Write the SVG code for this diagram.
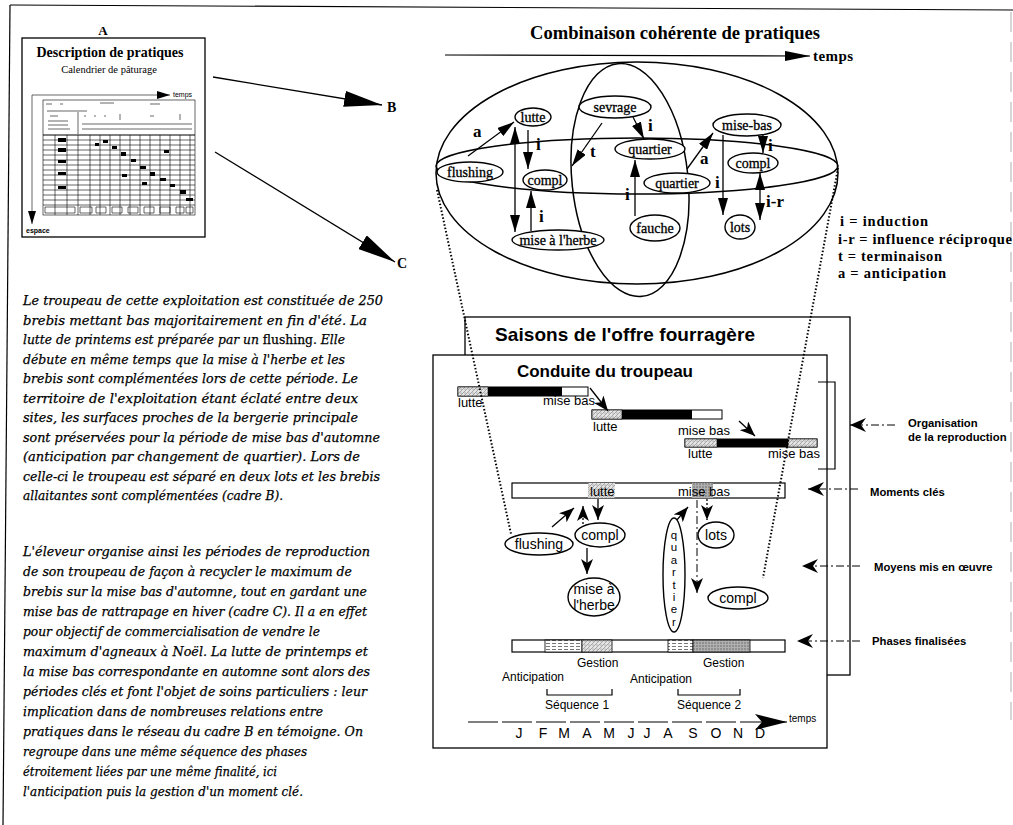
<svg xmlns="http://www.w3.org/2000/svg" width="1013" height="825" viewBox="0 0 1013 825">
<defs>
<style>
.ln{stroke:#000;fill:none;stroke-width:1.2}
.box{fill:#fff;stroke:#000;stroke-width:1.3}
.nd{fill:#fff;stroke:#000;stroke-width:1.4}
.ell{fill:none;stroke:#000;stroke-width:1.5}
.nt{font-family:"Liberation Serif",serif;font-size:14px;text-anchor:middle;stroke:#000;stroke-width:0.3}
.rl{font-family:"Liberation Serif",serif;font-weight:bold;font-size:17px}
.lg{font-family:"Liberation Serif",serif;font-weight:bold;font-size:14.5px}
.para{font-family:"DejaVu Serif",serif;font-style:italic;font-size:12px;stroke:#000;stroke-width:0.25}
.up{font-style:normal}
.ct{font-family:"Liberation Sans",sans-serif;font-size:13px}
.nm{font-family:"Liberation Sans",sans-serif;font-size:14px;text-anchor:middle}
.lb{font-family:"Liberation Sans",sans-serif;font-weight:bold;font-size:11.3px}
.sm{font-family:"Liberation Sans",sans-serif;font-size:12px}
.dot{stroke:#000;stroke-width:2;stroke-dasharray:1.5 2;fill:none}
.dd{stroke:#000;stroke-width:1;stroke-dasharray:8 3 2 3;fill:none}
.ar{stroke:#000;stroke-width:1.3;fill:none}
.th{stroke:#000;stroke-width:0.6;fill:none}
</style>
<marker id="mBig" markerUnits="userSpaceOnUse" markerWidth="38" markerHeight="16" refX="38" refY="8" orient="auto"><path d="M0,0 L38,8 L0,16 z" fill="#000"/></marker>
<marker id="mTop" markerUnits="userSpaceOnUse" markerWidth="17" markerHeight="10" refX="17" refY="5" orient="auto-start-reverse"><path d="M0,0 L17,5 L0,10 z" fill="#000"/></marker>
<marker id="mSm" markerUnits="userSpaceOnUse" markerWidth="15" markerHeight="12" refX="15" refY="6" orient="auto"><path d="M0,0 L15,6 L0,12 L4,6 z" fill="#000"/></marker>
<marker id="mLbl" markerUnits="userSpaceOnUse" markerWidth="16" markerHeight="14" refX="16" refY="7" orient="auto"><path d="M0,0 L16,7 L0,14 L5,7 z" fill="#000"/></marker>
<marker id="mAxis" markerUnits="userSpaceOnUse" markerWidth="32" markerHeight="16" refX="32" refY="8" orient="auto"><path d="M0,0 L32,8 L0,16 L7,8 z" fill="#000"/></marker>
<marker id="mTitle" markerUnits="userSpaceOnUse" markerWidth="25" markerHeight="10" refX="25" refY="5" orient="auto"><path d="M0,0 L25,5 L0,10 z" fill="#000"/></marker>
<marker id="mThumb" markerUnits="userSpaceOnUse" markerWidth="13" markerHeight="8" refX="13" refY="4" orient="auto"><path d="M0,0 L13,4 L0,8 z" fill="#000"/></marker>
<pattern id="hL" width="4" height="4" patternUnits="userSpaceOnUse"><rect width="4" height="4" fill="#e4e4e4"/><path d="M0,4 L4,0" stroke="#8a8a8a" stroke-width="0.7"/><circle cx="1" cy="1" r="0.5" fill="#666"/></pattern>
<pattern id="hD" width="3" height="3" patternUnits="userSpaceOnUse"><rect width="3" height="3" fill="#b0b0b0"/><circle cx="1" cy="1" r="0.7" fill="#555"/></pattern>
<pattern id="hW" width="6" height="3" patternUnits="userSpaceOnUse"><rect width="6" height="3" fill="#fff"/><path d="M0,1.5 L4,1.5" stroke="#555" stroke-width="0.8"/></pattern>
</defs>

<g id="frame">
<line x1="10" y1="5" x2="1013" y2="10" class="ln" stroke-width="1"/>
<line x1="10" y1="5" x2="3" y2="825" class="ln" stroke-width="1"/>
<line x1="1011" y1="12" x2="1011" y2="720" stroke="#999" stroke-width="0.8" stroke-dasharray="20 10"/>
</g>

<g id="panelA">
<text x="103" y="35" text-anchor="middle" font-family="Liberation Serif, serif" font-weight="bold" font-size="13">A</text>
<rect x="22" y="38" width="183" height="199" class="box"/>
<text x="110" y="57" text-anchor="middle" font-family="Liberation Serif, serif" font-weight="bold" font-size="14">Description de pratiques</text>
<text x="109" y="73" text-anchor="middle" font-family="Liberation Serif, serif" font-size="10.5">Calendrier de pâturage</text>
<line x1="32" y1="95" x2="170" y2="95" class="th" stroke-width="1" marker-end="url(#mThumb)"/>
<text x="173" y="97" font-family="Liberation Sans, sans-serif" font-size="7">temps</text>
<line x1="32" y1="95" x2="32" y2="224" class="th" stroke-width="1.2" marker-end="url(#mThumb)"/>
<text x="26" y="233" font-family="Liberation Sans, sans-serif" font-weight="bold" font-size="7">espace</text>
<rect x="43" y="100" width="152" height="115" class="th" fill="#fff"/>
<path class="th" d="M46,104 h6 M60,104 h3 M100,103 h14 M150,104 h10 M47,111 h40 M50,116 h8 M48,121 h20 M48,125 h20 M48,129 h22 M78,112 v22 M84,116 h2 M94,116 h2 M104,116 h2 M120,114 v6 M150,116 h4 M180,114 v6 M82,124 h110 M82,129 h110"/>
<line x1="43" y1="135" x2="195" y2="135" stroke="#000" stroke-width="1.2"/>
<path class="th" d="M43,140 H195 M43,145 H195 M43,150 H195 M43,155 H195 M43,160 H195 M43,165 H195 M43,170 H195 M43,175 H195 M43,180 H195 M43,185 H195 M43,190 H195 M43,195 H195 M43,200 H195 M43,205 H195"/>
<path class="th" d="M55,135 V215 M67,135 V215 M78,135 V215 M90,135 V215 M100,135 V215 M110,135 V215 M120,135 V215 M130,135 V215 M140,135 V215 M150,135 V215 M160,135 V215 M170,135 V215 M180,135 V215 M190,135 V215"/>
<path d="M58,138 h8 v4 h-8z M58,148 h8 v4 h-8z M58,160 h8 v3 h-8z M58,172 h8 v3 h-8z M58,186 h8 v3 h-8z M103,140 h5 v3 h-5z M112,146 h5 v3 h-5z M121,152 h5 v4 h-5z M131,159 h5 v3 h-5z M140,166 h6 v3 h-6z M150,172 h5 v4 h-5z M160,178 h6 v3 h-6z M170,184 h5 v3 h-5z M180,190 h6 v4 h-6z M186,198 h7 v3 h-7z M122,174 h5 v3 h-5z M142,182 h5 v3 h-5z M164,150 h5 v3 h-5z M95,143 h4 v3 h-4z" fill="#000"/>
<path class="th" d="M45,207 h30 v6 h-30z M80,207 h12 v6 h-12z M96,207 h10 v6 h-10z M112,207 h10 v6 h-10z M128,207 h10 v6 h-10z M144,207 h10 v6 h-10z M160,207 h10 v6 h-10z M176,207 h8 v6 h-8z M186,207 h7 v6 h-7z"/>
</g>

<g id="panelB">
<text x="675" y="39" text-anchor="middle" font-family="Liberation Serif, serif" font-weight="bold" font-size="18" textLength="290" lengthAdjust="spacingAndGlyphs">Combinaison cohérente de pratiques</text>
<line x1="445" y1="55" x2="810" y2="56" class="ln" stroke-width="1.5" marker-end="url(#mTitle)"/>
<text x="813" y="61" font-family="Liberation Serif, serif" font-weight="bold" font-size="15" textLength="40">temps</text>
<ellipse cx="637" cy="173" rx="201" ry="111" class="ell"/>
<ellipse cx="637" cy="166" rx="201" ry="28" class="ell" stroke-width="1.3"/>
<ellipse cx="630" cy="180" rx="58" ry="117" class="ell" stroke-width="1.3" transform="rotate(-6 630 180)"/>
</g>

<g id="legend">
<text x="840" y="226" class="lg" textLength="88">i = induction</text>
<text x="838" y="243.5" class="lg" textLength="174">i-r = influence réciproque</text>
<text x="838" y="261" class="lg" textLength="104">t = terminaison</text>
<text x="838" y="278" class="lg" textLength="108">a = anticipation</text>
</g>

<g id="text">
<text x="23" y="305" class="para" textLength="360" lengthAdjust="spacingAndGlyphs">Le troupeau de cette exploitation est constituée de 250</text>
<text x="23" y="324.5" class="para" textLength="344" lengthAdjust="spacingAndGlyphs">brebis mettant bas majoritairement en fin d'été. La</text>
<text x="23" y="344" class="para" textLength="322" lengthAdjust="spacingAndGlyphs">lutte de printems est préparée par un <tspan class="up">flushing.</tspan> Elle</text>
<text x="23" y="363.5" class="para" textLength="322" lengthAdjust="spacingAndGlyphs">débute en même temps que la mise à l'herbe et les</text>
<text x="23" y="383" class="para" textLength="335" lengthAdjust="spacingAndGlyphs">brebis sont complémentées lors de cette période. Le</text>
<text x="23" y="402.5" class="para" textLength="335" lengthAdjust="spacingAndGlyphs">territoire de l'exploitation étant éclaté entre deux</text>
<text x="23" y="422" class="para" textLength="335" lengthAdjust="spacingAndGlyphs">sites, les surfaces proches de la bergerie principale</text>
<text x="23" y="441.5" class="para" textLength="357" lengthAdjust="spacingAndGlyphs">sont préservées pour la période de mise bas d'automne</text>
<text x="23" y="461" class="para" textLength="337" lengthAdjust="spacingAndGlyphs">(anticipation par changement de quartier). Lors de</text>
<text x="23" y="480.5" class="para" textLength="357" lengthAdjust="spacingAndGlyphs">celle-ci le troupeau est séparé en deux lots et les brebis</text>
<text x="23" y="500" class="para" textLength="260" lengthAdjust="spacingAndGlyphs">allaitantes sont complémentées (cadre B).</text>
<text x="23" y="556" class="para" textLength="347" lengthAdjust="spacingAndGlyphs">L'éleveur organise ainsi les périodes de reproduction</text>
<text x="23" y="576" class="para" textLength="329" lengthAdjust="spacingAndGlyphs">de son troupeau de façon à recycler le maximum de</text>
<text x="23" y="596" class="para" textLength="344" lengthAdjust="spacingAndGlyphs">brebis sur la mise bas d'automne, tout en gardant une</text>
<text x="23" y="616" class="para" textLength="344" lengthAdjust="spacingAndGlyphs">mise bas de rattrapage en hiver (cadre C). Il a en effet</text>
<text x="23" y="636" class="para" textLength="297" lengthAdjust="spacingAndGlyphs">pour objectif de commercialisation de vendre le</text>
<text x="23" y="656" class="para" textLength="345" lengthAdjust="spacingAndGlyphs">maximum d'agneaux à Noël. La lutte de printemps et</text>
<text x="23" y="676" class="para" textLength="347" lengthAdjust="spacingAndGlyphs">la mise bas correspondante en automne sont alors des</text>
<text x="23" y="696" class="para" textLength="344" lengthAdjust="spacingAndGlyphs">périodes clés et font l'objet de soins particuliers : leur</text>
<text x="23" y="716" class="para" textLength="300" lengthAdjust="spacingAndGlyphs">implication dans de nombreuses relations entre</text>
<text x="23" y="736" class="para" textLength="340" lengthAdjust="spacingAndGlyphs">pratiques dans le réseau du cadre B en témoigne. On</text>
<text x="23" y="756" class="para" textLength="284" lengthAdjust="spacingAndGlyphs">regroupe dans une même séquence des phases</text>
<text x="23" y="776" class="para" textLength="254" lengthAdjust="spacingAndGlyphs">étroitement liées par une même finalité, ici</text>
<text x="23" y="796" class="para" textLength="280" lengthAdjust="spacingAndGlyphs">l'anticipation puis la gestion d'un moment clé.</text>
</g>

<g id="saisons">
<rect x="465" y="317" width="385" height="358" class="box"/>
<text x="625" y="341" text-anchor="middle" font-family="Liberation Sans, sans-serif" font-weight="bold" font-size="19" textLength="260">Saisons de l'offre fourragère</text>
</g>

<g id="conduite">
<rect x="433" y="355" width="394" height="393" class="box"/>
<text x="605" y="377" text-anchor="middle" font-family="Liberation Sans, sans-serif" font-weight="bold" font-size="17" textLength="176">Conduite du troupeau</text>
<rect x="458" y="387" width="130" height="9" fill="#fff" stroke="#000"/>
<rect x="458" y="387" width="30" height="9" fill="url(#hL)" stroke="#000" stroke-width="0.6"/>
<rect x="488" y="387" width="74" height="9" fill="#000"/>
<text x="458" y="407" class="ct">lutte</text>
<text x="543" y="405" class="ct">mise bas</text>
<rect x="592" y="410" width="130" height="9" fill="#fff" stroke="#000"/>
<rect x="592" y="410" width="30" height="9" fill="url(#hL)" stroke="#000" stroke-width="0.6"/>
<rect x="622" y="410" width="70" height="9" fill="#000"/>
<text x="593" y="431" class="ct">lutte</text>
<text x="678" y="435" class="ct">mise bas</text>
<rect x="685" y="439" width="132" height="8" fill="#fff" stroke="#000"/>
<rect x="685" y="439" width="32" height="8" fill="url(#hL)" stroke="#000" stroke-width="0.6"/>
<rect x="717" y="439" width="71" height="8" fill="#000"/>
<rect x="788" y="439" width="29" height="8" fill="url(#hL)" stroke="#000" stroke-width="0.6"/>
<text x="688" y="458" class="ct">lutte</text>
<text x="768" y="458" class="ct">mise bas</text>
<polyline points="818,382 835,382 835,469 818,469" class="ln"/>
<rect x="512" y="483" width="273" height="15" fill="#fff" stroke="#000" stroke-width="1.2"/>
<rect x="588" y="483" width="27" height="15" fill="url(#hL)"/>
<rect x="692" y="483" width="21" height="15" fill="url(#hD)"/>
<text x="590" y="496" class="ct">lutte</text>
<text x="678" y="496" class="ct">mise bas</text>
<rect x="512" y="640" width="273" height="12" fill="#fff" stroke="#000" stroke-width="1.2"/>
<rect x="545" y="640" width="37" height="12" fill="url(#hW)" stroke="#000" stroke-width="0.8"/>
<rect x="582" y="640" width="30" height="12" fill="url(#hL)" stroke="#000" stroke-width="0.8"/>
<rect x="668" y="640" width="25" height="12" fill="url(#hW)" stroke="#000" stroke-width="0.8"/>
<rect x="693" y="640" width="57" height="12" fill="url(#hD)" stroke="#000" stroke-width="0.8"/>
<text x="577" y="667" class="sm">Gestion</text>
<text x="703" y="667" class="sm">Gestion</text>
<text x="502" y="681" class="sm">Anticipation</text>
<text x="630" y="683" class="sm">Anticipation</text>
<path class="ln" d="M547,689 V695 H612 V689 M678,689 V695 H740 V689"/>
<text x="545" y="709" class="sm">Séquence 1</text>
<text x="677" y="709" class="sm">Séquence 2</text>
<line x1="468" y1="722" x2="787" y2="722" class="ln" stroke-dasharray="30 4" marker-end="url(#mAxis)"/>
<text x="789" y="722" font-family="Liberation Sans, sans-serif" font-size="10">temps</text>
<g class="nm">
<text x="519" y="738">J</text><text x="543" y="738">F</text><text x="564" y="738">M</text><text x="587" y="738">A</text><text x="609" y="738">M</text><text x="631" y="738">J</text><text x="647" y="738">J</text><text x="668" y="738">A</text><text x="693" y="738">S</text><text x="716" y="738">O</text><text x="738" y="738">N</text><text x="760" y="738">D</text>
</g>
</g>

<g id="labels">
<line x1="895" y1="425" x2="850" y2="425" class="dd" marker-end="url(#mLbl)"/>
<text x="908" y="427" class="lb">Organisation</text>
<text x="908" y="441" class="lb">de la reproduction</text>
<line x1="858" y1="489" x2="808" y2="489" class="dd" marker-end="url(#mLbl)"/>
<text x="870" y="496" class="lb">Moments clés</text>
<line x1="860" y1="566" x2="802" y2="566" class="dd" marker-end="url(#mLbl)"/>
<text x="874" y="571" class="lb">Moyens mis en œuvre</text>
<line x1="860" y1="641" x2="797" y2="641" class="dd" marker-end="url(#mLbl)"/>
<text x="872" y="645" class="lb">Phases finalisées</text>
</g>

<g id="connectors">
<line x1="213" y1="77" x2="382" y2="105" class="ar" stroke-width="1.6" marker-end="url(#mBig)"/>
<text x="387" y="112" font-family="Liberation Serif, serif" font-weight="bold" font-size="14">B</text>
<line x1="215" y1="152" x2="395" y2="262" class="ar" stroke-width="1.6" marker-end="url(#mBig)"/>
<text x="397" y="268" font-family="Liberation Serif, serif" font-weight="bold" font-size="14">C</text>
<line x1="437" y1="190" x2="511" y2="534" class="dot"/>
<line x1="838" y1="168" x2="763" y2="578" class="dot"/>
<line x1="468" y1="156" x2="514" y2="122" class="ar" marker-end="url(#mTop)"/>
<text x="473" y="137" class="rl">a</text>
<line x1="515" y1="127" x2="515" y2="232" class="ar" marker-start="url(#mTop)" marker-end="url(#mTop)"/>
<line x1="528" y1="130" x2="528" y2="169" class="ar" marker-end="url(#mTop)"/>
<text x="536" y="150" class="rl">i</text>
<line x1="531" y1="231" x2="531" y2="191" class="ar" marker-end="url(#mTop)"/>
<text x="539" y="222" class="rl">i</text>
<line x1="633" y1="117" x2="644" y2="139" class="ar" marker-end="url(#mTop)"/>
<text x="648" y="131" class="rl">i</text>
<line x1="602" y1="123" x2="572" y2="166" class="ar" marker-end="url(#mTop)"/>
<text x="590" y="157" class="rl">t</text>
<line x1="635" y1="216" x2="635" y2="160" class="ar" marker-end="url(#mTop)"/>
<text x="625" y="200" class="rl">i</text>
<line x1="687" y1="169" x2="713" y2="133" class="ar" marker-end="url(#mTop)"/>
<text x="700" y="164" class="rl">a</text>
<line x1="723" y1="135" x2="723" y2="215" class="ar" marker-end="url(#mTop)"/>
<text x="715" y="188" class="rl">i</text>
<line x1="763" y1="133" x2="763" y2="153" class="ar" marker-end="url(#mTop)"/>
<text x="768" y="151" class="rl">i</text>
<line x1="760" y1="173" x2="760" y2="220" class="ar" marker-start="url(#mTop)" marker-end="url(#mTop)"/>
<text x="766" y="207" class="rl">i-r</text>
<line x1="590" y1="388" x2="608" y2="411" class="ar" stroke-width="1" marker-end="url(#mSm)"/>
<line x1="739" y1="421" x2="755" y2="436" class="ar" stroke-width="1" marker-end="url(#mSm)"/>
<line x1="552" y1="527" x2="574" y2="508" class="ar" stroke-width="1" marker-end="url(#mSm)"/>
<line x1="583" y1="524" x2="583" y2="506" class="ar" stroke-width="1" stroke-dasharray="2 2" marker-end="url(#mSm)"/>
<line x1="598" y1="499" x2="598" y2="520" class="ar" stroke-width="1" marker-end="url(#mSm)"/>
<line x1="587" y1="548" x2="587" y2="574" class="ar" stroke-width="0" marker-end="url(#mSm)"/>
<line x1="670" y1="528" x2="688" y2="507" class="ar" stroke-width="1" marker-end="url(#mSm)"/>
<line x1="707" y1="499" x2="707" y2="520" class="ar" stroke-width="1" stroke-dasharray="2 2" marker-end="url(#mSm)"/>
<line x1="697" y1="500" x2="697" y2="593" class="dd" marker-end="url(#mSm)"/>
</g>

<g id="n-lutte"><ellipse cx="533" cy="117" rx="18" ry="9" class="nd"/><text x="533" y="122" class="nt">lutte</text></g>
<g id="n-flushing"><ellipse cx="470" cy="172" rx="33" ry="10" class="nd"/><text x="470" y="177" class="nt">flushing</text></g>
<g id="n-compl1"><ellipse cx="545" cy="180" rx="22" ry="10" class="nd"/><text x="545" y="185" class="nt">compl</text></g>
<g id="n-herbe"><ellipse cx="558" cy="240" rx="46" ry="10" class="nd"/><text x="558" y="245" class="nt">mise à l'herbe</text></g>
<g id="n-sevrage"><ellipse cx="615" cy="107" rx="36" ry="11" class="nd"/><text x="615" y="112" class="nt">sevrage</text></g>
<g id="n-quartier1"><ellipse cx="650" cy="149" rx="35" ry="10" class="nd"/><text x="650" y="154" class="nt">quartier</text></g>
<g id="n-quartier2"><ellipse cx="677" cy="183" rx="33" ry="10" class="nd"/><text x="677" y="188" class="nt">quartier</text></g>
<g id="n-fauche"><ellipse cx="655" cy="228" rx="25" ry="13" class="nd"/><text x="655" y="233" class="nt">fauche</text></g>
<g id="n-misebas"><ellipse cx="747" cy="125" rx="34" ry="11" class="nd"/><text x="747" y="130" class="nt">mise-bas</text></g>
<g id="n-compl2"><ellipse cx="753" cy="163" rx="25" ry="10" class="nd"/><text x="753" y="168" class="nt">compl</text></g>
<g id="n-lots"><ellipse cx="740" cy="227" rx="15" ry="12" class="nd"/><text x="740" y="232" class="nt">lots</text></g>

<g id="m-flushing"><ellipse cx="539" cy="544" rx="34" ry="11" class="nd"/><text x="539" y="549" class="nm">flushing</text></g>
<g id="m-compl"><ellipse cx="600" cy="535" rx="25" ry="12" class="nd"/><text x="600" y="540" class="nm">compl</text></g>
<g id="m-herbe"><ellipse cx="594" cy="597" rx="26" ry="19" class="nd"/><text x="594" y="594" class="nm">mise à</text><text x="594" y="610" class="nm">l'herbe</text></g>
<g id="m-quartier"><ellipse cx="674" cy="575" rx="11" ry="57" class="nd"/><text x="674" y="529" font-family="Liberation Sans, sans-serif" font-size="11.5" letter-spacing="0.4" style="writing-mode:vertical-rl;text-orientation:upright">quartier</text></g>
<g id="m-lots"><ellipse cx="716" cy="535" rx="18" ry="13" class="nd"/><text x="716" y="540" class="nm">lots</text></g>
<g id="m-compl2"><ellipse cx="738" cy="598" rx="30" ry="11" class="nd"/><text x="738" y="603" class="nm">compl</text></g>
</svg>
